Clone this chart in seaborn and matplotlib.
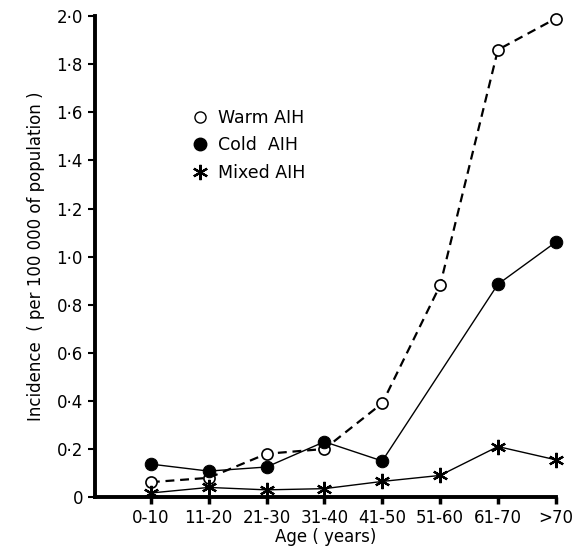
import numpy as np
import pandas as pd
import seaborn as sns
import matplotlib.pyplot as plt
from matplotlib.ticker import FuncFormatter
from matplotlib.lines import Line2D

ages = ["0-10", "11-20", "21-30", "31-40", "41-50", "51-60", "61-70", ">70"]
warm = [0.062, 0.08, 0.18, 0.20, 0.39, 0.88, 1.86, 1.99]
cold = [0.137, 0.108, 0.125, 0.23, 0.15, np.nan, 0.885, 1.06]
mixed = [0.017, 0.04, 0.03, 0.035, 0.065, 0.09, 0.21, 0.155]

sns.set_style("ticks")
plt.rcParams["font.family"] = ["DejaVu Sans"]
plt.rcParams["text.color"] = "black"
plt.rcParams["axes.labelcolor"] = "black"
plt.rcParams["xtick.color"] = "black"
plt.rcParams["ytick.color"] = "black"
plt.rcParams["axes.edgecolor"] = "black"

fig = plt.figure(figsize=(5.85, 5.56), dpi=100)
ax = fig.add_axes([0.162, 0.106, 0.788, 0.865])

pos = np.arange(len(ages))
df = pd.DataFrame({"pos": pos, "warm": warm, "cold": cold, "mixed": mixed})

star = (6, 2, 0)
sns.lineplot(data=df, x="pos", y="warm", ax=ax, color="black", lw=1.6,
             linestyle=(0, (4, 2.6)), marker="o", markersize=8,
             markerfacecolor="white", markeredgecolor="black", markeredgewidth=1.2,
             clip_on=False, zorder=3)
cd = df.dropna(subset=["cold"])
sns.lineplot(data=cd, x="pos", y="cold", ax=ax, color="black", lw=1.0,
             marker="o", markersize=9, markerfacecolor="black", markeredgecolor="black",
             clip_on=False, zorder=3)
sns.lineplot(data=df, x="pos", y="mixed", ax=ax, color="black", lw=1.0,
             marker=star, markersize=11, markeredgewidth=1.6, markeredgecolor="black",
             clip_on=False, zorder=3)

ax.set_xlim(-0.97, 7.0)
ax.set_ylim(0, 2.0)
ax.set_xticks(pos)
ax.set_xticklabels(ages, fontsize=12)
ax.set_yticks(np.arange(0, 2.01, 0.2))
ax.yaxis.set_major_formatter(FuncFormatter(lambda v, p: "0" if abs(v) < 1e-9 else f"{v:.1f}".replace(".", "\u00b7")))
ax.tick_params(axis="y", labelsize=12, width=1.5, length=5, direction="out")
ax.tick_params(axis="x", width=2.5, length=5, direction="out")
for s in ["left", "bottom"]:
    ax.spines[s].set_linewidth(2.8)
sns.despine(ax=ax)

ax.set_xlabel("Age ( years)", fontsize=12, labelpad=1)
ax.set_ylabel("Incidence  ( per 100 000 of population )", fontsize=12, labelpad=8)

handles = [
    Line2D([], [], ls="none", marker="o", markersize=8, markerfacecolor="white",
           markeredgecolor="black", markeredgewidth=1.0),
    Line2D([], [], ls="none", marker="o", markersize=9, color="black"),
    Line2D([], [], ls="none", marker=star, markersize=11, markeredgewidth=1.6, color="black"),
]
ax.legend(handles, ["Warm AIH", "Cold  AIH", "Mixed AIH"], loc="upper left",
          bbox_to_anchor=(0.18, 0.84), frameon=False, fontsize=12.5,
          handlelength=0.8, handletextpad=0.6, labelspacing=0.55)

fig.savefig("out.png", dpi=100)
